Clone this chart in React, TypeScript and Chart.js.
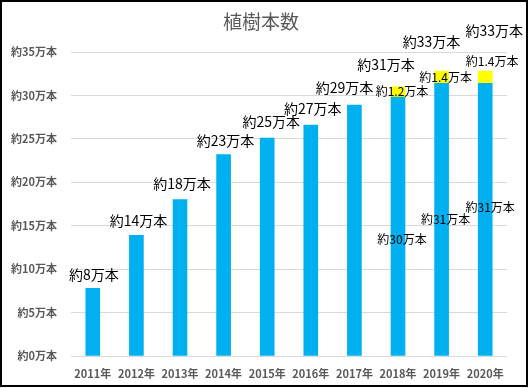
import React, { useEffect, useRef } from "react";
import { Chart, registerables } from "chart.js";

Chart.register(...registerables);

const TITLE = "植樹本数";
const YEARS = ["2011年", "2012年", "2013年", "2014年", "2015年", "2016年", "2017年", "2018年", "2019年", "2020年"];
const BASE_VALUES = [7.8, 13.9, 18, 23.2, 25.1, 26.6, 28.9, 29.8, 31.4, 31.4];
const EXTRA_VALUES = [null, null, null, null, null, null, null, 1.2, 1.4, 1.4];
const Y_TICK_STEP = 5;
const Y_MAX = 35;

// label styling (offsets in px, relative to bar geometry) — kept separate from data
const BASE_LABEL_MODE = ["top", "top", "top", "top", "top", "top", "top", "mid", "mid", "mid"];
const BASE_LABEL_DX = [1, 2, 2, 2, 4, 2, -10, 4, 4, 5];
const BASE_LABEL_DY = [-14, -15, -16, -14, -16, -16, -17, 13, 0, -12];
const BASE_LABEL_SIZE = [14, 14, 14, 14, 14, 14, 14, 12, 12, 12];
const EXTRA_LABEL_DX = [0, 0, 0, 0, 0, 0, 0, 4, 4, 7];
const EXTRA_LABEL_DY = [0, 0, 0, 0, 0, 0, 0, -1, 0, -16];
const TOTAL_LABEL_DX = [0, 0, 0, 0, 0, 0, 0, -12, -10, 9];
const TOTAL_LABEL_DY = [0, 0, 0, 0, 0, 0, 0, -22, -29, -40];

const FONT = '"Noto Sans CJK JP", "Noto Sans", sans-serif';

const labelsPlugin = {
  id: "customLabels",
  afterDatasetsDraw(chart: any) {
    const ctx = chart.ctx;
    const yScale = chart.scales.y;
    ctx.save();
    ctx.fillStyle = "#000";
    ctx.textAlign = "center";
    ctx.textBaseline = "middle";
    const baseMeta = chart.getDatasetMeta(0);
    const extraMeta = chart.getDatasetMeta(1);
    baseMeta.data.forEach((el: any, i: number) => {
      const v = BASE_VALUES[i];
      const text = "約" + Math.round(v) + "万本";
      const y = BASE_LABEL_MODE[i] === "top" ? el.y : (el.y + el.base) / 2;
      ctx.font = `${BASE_LABEL_SIZE[i]}px ${FONT}`;
      ctx.fillText(text, el.x + BASE_LABEL_DX[i], y + BASE_LABEL_DY[i]);
    });
    extraMeta.data.forEach((el: any, i: number) => {
      const e = EXTRA_VALUES[i];
      if (e == null) return;
      ctx.font = `12px ${FONT}`;
      ctx.fillText("約" + e.toFixed(1) + "万本", el.x + EXTRA_LABEL_DX[i], (el.y + el.base) / 2 + EXTRA_LABEL_DY[i]);
      const total = BASE_VALUES[i] + e;
      const ty = yScale.getPixelForValue(total);
      ctx.font = `14px ${FONT}`;
      ctx.fillText("約" + Math.round(total) + "万本", el.x + TOTAL_LABEL_DX[i], ty + TOTAL_LABEL_DY[i]);
    });
    ctx.restore();
  },
  afterDraw(chart: any) {
    const ctx = chart.ctx;
    ctx.save();
    ctx.fillStyle = "#595959";
    ctx.font = `19px ${FONT}`;
    ctx.textAlign = "center";
    ctx.textBaseline = "middle";
    ctx.fillText(TITLE, 261, 22);
    ctx.strokeStyle = "#000";
    ctx.lineWidth = 2;
    ctx.strokeRect(1, 1, 526, 385);
    ctx.restore();
  },
};

export default function App() {
  const ref = useRef<HTMLCanvasElement>(null);
  useEffect(() => {
    if (!ref.current) return;
    const chart = new Chart(ref.current, {
      type: "bar",
      data: {
        labels: YEARS,
        datasets: [
          { label: "base", data: BASE_VALUES, backgroundColor: "#00B0F0", barThickness: 14 },
          { label: "extra", data: EXTRA_VALUES as any, backgroundColor: "#FFFF00", barThickness: 14 },
        ],
      },
      options: {
        responsive: false,
        animation: false,
        layout: { padding: { top: 52, right: 22, bottom: 0, left: 0 } },
        plugins: { legend: { display: false }, tooltip: { enabled: false }, title: { display: false } },
        scales: {
          x: {
            stacked: true,
            grid: { display: false },
            border: { display: false },
            ticks: {
              color: "#595959",
              font: { family: FONT, size: 11, weight: "bold" },
              padding: 3,
              maxRotation: 0,
              autoSkip: false,
            },
            afterFit: (s: any) => { s.height = 32; },
          },
          y: {
            stacked: true,
            min: 0,
            max: Y_MAX,
            grid: { color: "#d9d9d9", drawTicks: false },
            border: { display: false },
            ticks: {
              stepSize: Y_TICK_STEP,
              color: "#595959",
              font: { family: FONT, size: 11, weight: "bold" },
              padding: 14,
              callback: (v: any) => "約" + v + "万本",
            },
            afterFit: (s: any) => { s.width = 71; },
          },
        },
      },
      plugins: [labelsPlugin],
    });
    return () => chart.destroy();
  }, []);
  return (
    <div style={{ position: "fixed", left: 0, top: 0, width: 529, height: 388, background: "#fff" }}>
      <canvas ref={ref} width={529} height={388} style={{ display: "block" }} />
    </div>
  );
}
